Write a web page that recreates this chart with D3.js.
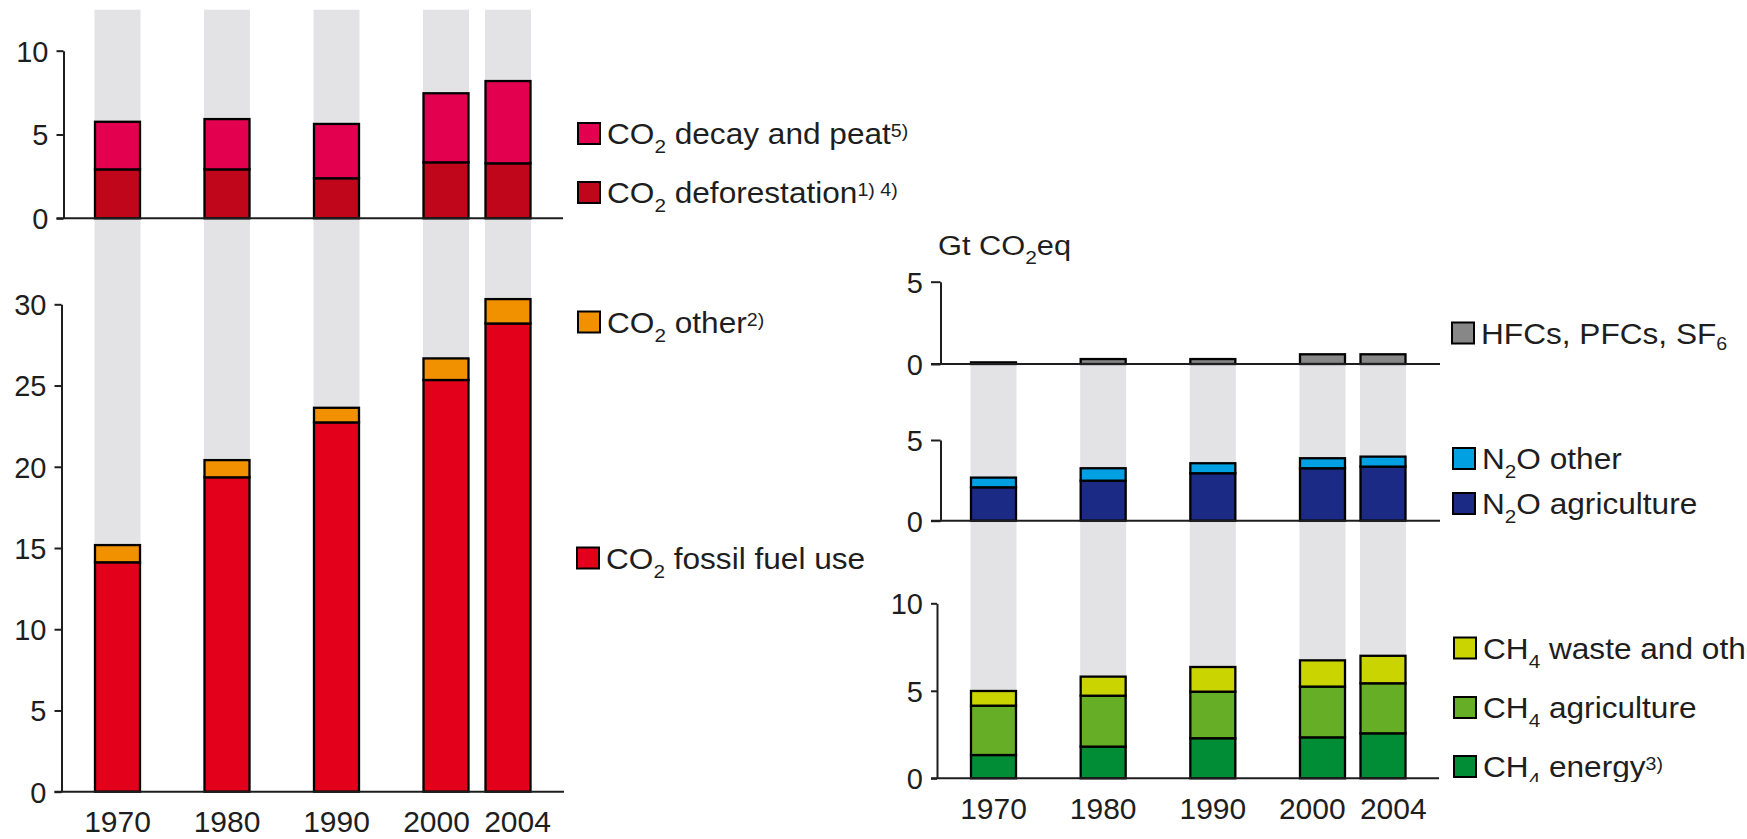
<!DOCTYPE html>
<html><head><meta charset="utf-8">
<script src="https://cdn.jsdelivr.net/npm/d3@7"></script>
<style>
body{margin:0;background:#fff;}
svg{display:block;font-family:"Liberation Sans",Arial,Helvetica,sans-serif;}
</style></head><body>
<svg id="chart" width="1747" height="839"></svg>
<script>
// ---------------- data ----------------
const years = ["1970", "1980", "1990", "2000", "2004"];
// left chart (Gt CO2eq)
const co2Deforestation = [2.92, 2.92, 2.39, 3.34, 3.28];
const co2DecayPeat     = [2.84, 3.00, 3.24, 4.12, 4.91];
const co2FossilFuel    = [14.12, 19.35, 22.73, 25.34, 28.82];
const co2Other         = [1.06, 1.06, 0.90, 1.33, 1.50];
// right chart (Gt CO2eq)
const fGases           = [0.10, 0.30, 0.30, 0.59, 0.59];
const n2oAgriculture   = [2.07, 2.48, 2.94, 3.25, 3.35];
const n2oOther         = [0.60, 0.77, 0.62, 0.62, 0.62];
const ch4Energy        = [1.33, 1.81, 2.29, 2.34, 2.57];
const ch4Agriculture   = [2.82, 2.91, 2.66, 2.90, 2.86];
const ch4Waste         = [0.84, 1.09, 1.41, 1.50, 1.57];
// axis ticks
const ticksCO2Land   = [0, 5, 10];
const ticksCO2Fossil = [0, 5, 10, 15, 20, 25, 30];
const ticksFGas      = [0, 5];
const ticksN2O       = [0, 5];
const ticksCH4       = [0, 5, 10];
const unitLabel = [["Gt CO", ""], ["2", "sub"], ["eq", ""]];
// legend labels
const legendCO2Decay  = [["CO", ""], ["2", "sub"], [" decay and peat", ""], ["5)", "sup"]];
const legendCO2Def    = [["CO", ""], ["2", "sub"], [" deforestation", ""], ["1) 4)", "sup"]];
const legendCO2Other  = [["CO", ""], ["2", "sub"], [" other", ""], ["2)", "sup"]];
const legendCO2Fossil = [["CO", ""], ["2", "sub"], [" fossil fuel use", ""]];
const legendFGas      = [["HFCs, PFCs, SF", ""], ["6", "sub6"]];
const legendN2OOther  = [["N", ""], ["2", "sub"], ["O other", ""]];
const legendN2OAgri   = [["N", ""], ["2", "sub"], ["O agriculture", ""]];
const legendCH4Waste  = [["CH", ""], ["4", "sub"], [" waste and other", ""]];
const legendCH4Agri   = [["CH", ""], ["4", "sub"], [" agriculture", ""]];
const legendCH4Energy = [["CH", ""], ["4", "sub"], [" energy", ""], ["3)", "sup"]];

// ---------------- colours ----------------
const C = {
  decay: "#e3004f", def: "#c0061b", fossil: "#e2001a", other: "#f29100",
  fgas: "#878787", n2oOther: "#00a0e2", n2oAgri: "#1b2a85",
  ch4Waste: "#cad400", ch4Agri: "#66ae25", ch4Energy: "#008d36",
  band: "#e3e3e5", ink: "#1e1e1e"
};

const svg = d3.select("#chart");
const barW = 45, bandW = 46;
const yearNums = years.map(Number);

const xLeft  = d3.scaleLinear().domain([1970, 2000, 2004]).range([117.5, 446, 508]);
const xRight = d3.scaleLinear().domain([1970, 2000, 2004]).range([993.5, 1322.5, 1383]);

const panels = [
  { x: xLeft, y: d3.scaleLinear().domain([0, 10]).range([218.3, 50.7]), ticks: ticksCO2Land,
    axisX: 63.5, tickLen: 7, lineEnd: 563,
    series: [{ v: co2Deforestation, c: C.def }, { v: co2DecayPeat, c: C.decay }] },
  { x: xLeft, y: d3.scaleLinear().domain([0, 30]).range([791.7, 304.3]), ticks: ticksCO2Fossil,
    axisX: 61.5, tickLen: 7, lineEnd: 564,
    series: [{ v: co2FossilFuel, c: C.fossil }, { v: co2Other, c: C.other }] },
  { x: xRight, y: d3.scaleLinear().domain([0, 5]).range([364, 281.7]), ticks: ticksFGas,
    axisX: 940.5, tickLen: 9.5, lineEnd: 1440,
    series: [{ v: fGases, c: C.fgas }] },
  { x: xRight, y: d3.scaleLinear().domain([0, 5]).range([520.7, 440]), ticks: ticksN2O,
    axisX: 940.5, tickLen: 9.5, lineEnd: 1440,
    series: [{ v: n2oAgriculture, c: C.n2oAgri }, { v: n2oOther, c: C.n2oOther }] },
  { x: xRight, y: d3.scaleLinear().domain([0, 10]).range([778.3, 603.3]), ticks: ticksCH4,
    axisX: 937, tickLen: 6, lineEnd: 1439,
    series: [{ v: ch4Energy, c: C.ch4Energy }, { v: ch4Agriculture, c: C.ch4Agri }, { v: ch4Waste, c: C.ch4Waste }] }
];

// ---------------- background columns ----------------
const bands = svg.append("g");
bands.selectAll("rect.l").data(yearNums).join("rect")
  .attr("x", d => xLeft(d) - bandW / 2).attr("width", bandW)
  .attr("y", panels[0].y(10) - 41).attr("height", panels[1].y(0) - (panels[0].y(10) - 41))
  .attr("fill", C.band);
bands.selectAll("rect.r").data(yearNums).join("rect")
  .attr("x", d => xRight(d) - bandW / 2).attr("width", bandW)
  .attr("y", panels[2].y(0)).attr("height", panels[4].y(0) + 1 - panels[2].y(0))
  .attr("fill", C.band);

// ---------------- bars + axes ----------------
panels.forEach(p => {
  const keys = p.series.map((s, i) => "s" + i);
  const rows = yearNums.map((yr, j) => {
    const r = { year: yr };
    p.series.forEach((s, i) => r["s" + i] = s.v[j]);
    return r;
  });
  const stacked = d3.stack().keys(keys)(rows);
  const g = svg.append("g");
  stacked.forEach((layer, i) => {
    g.selectAll(null).data(layer).join("rect")
      .attr("x", d => p.x(d.data.year) - barW / 2)
      .attr("width", barW)
      .attr("y", d => p.y(d[1]))
      .attr("height", d => p.y(d[0]) - p.y(d[1]))
      .attr("fill", p.series[i].c)
      .attr("stroke", "#000").attr("stroke-width", 2.3);
  });
  // baseline
  g.append("line")
    .attr("x1", p.axisX - p.tickLen).attr("x2", p.lineEnd)
    .attr("y1", p.y(0)).attr("y2", p.y(0))
    .attr("stroke", C.ink).attr("stroke-width", 2);
  // y axis
  const ax = svg.append("g").attr("transform", `translate(${p.axisX},0)`)
    .call(d3.axisLeft(p.y).tickValues(p.ticks).tickSize(p.tickLen).tickSizeOuter(0).tickPadding(8).tickFormat(d3.format("d")));
  ax.select(".domain").attr("stroke", C.ink).attr("stroke-width", 2);
  ax.selectAll(".tick line").attr("stroke", C.ink).attr("stroke-width", 2);
  ax.selectAll(".tick text").attr("font-size", 29).attr("fill", C.ink)
    .attr("font-family", '"Liberation Sans", Arial, sans-serif').attr("dy", "0.36em");
});

// ---------------- x labels (spread apart where crowded) ----------------
function labelPositions(scale, minGap) {
  const pos = yearNums.map(d => scale(d));
  for (let i = 1; i < pos.length; i++) {
    const gap = pos[i] - pos[i - 1];
    if (gap < minGap) { const push = (minGap - gap) / 2; pos[i - 1] -= push; pos[i] += push; }
  }
  return pos;
}
[[xLeft, 832], [xRight, 819]].forEach(([sc, base]) => {
  const pos = labelPositions(sc, 81);
  svg.append("g").selectAll("text").data(years).join("text")
    .attr("x", (d, i) => pos[i]).attr("y", base)
    .attr("text-anchor", "middle").attr("font-size", 30).attr("fill", C.ink)
    .text(d => d);
});

// ---------------- rich text helper ----------------
function richText(g, x, y, parts, size, sx) {
  const t = g.append("text").attr("transform", `translate(${x},${y}) scale(${sx},1)`)
    .attr("font-size", size).attr("fill", C.ink);
  let shift = 0;
  parts.forEach(([s, type]) => {
    let target = 0, fs = size;
    if (type === "sub") { target = 9; fs = 19; }
    if (type === "sub6") { target = 6; fs = 18; }
    if (type === "sup") { target = -7; fs = 18; }
    t.append("tspan").attr("dy", target - shift).attr("font-size", fs).text(s);
    shift = target;
  });
  return t;
}

// unit label
richText(svg.append("g"), 938, 255, unitLabel, 28, 1.1);

// ---------------- legends ----------------
function legendItem(g, x, base, color, parts) {
  g.append("rect").attr("x", x).attr("y", base - 21).attr("width", 22).attr("height", 21)
    .attr("fill", color).attr("stroke", "#000").attr("stroke-width", 2);
  richText(g, x + 29, base, parts, 29, 1.09);
}
const legL = svg.append("g");
legendItem(legL, 578, 144, C.decay, legendCO2Decay);
legendItem(legL, 578, 203, C.def, legendCO2Def);
legendItem(legL, 578, 332.5, C.other, legendCO2Other);
legendItem(legL, 577, 568.5, C.fossil, legendCO2Fossil);

svg.append("defs").append("clipPath").attr("id", "legclip")
  .append("rect").attr("x", 1400).attr("y", 0).attr("width", 400).attr("height", 782);
const legR = svg.append("g").attr("clip-path", "url(#legclip)");
legendItem(legR, 1452, 343.5, C.fgas, legendFGas);
legendItem(legR, 1453, 469, C.n2oOther, legendN2OOther);
legendItem(legR, 1453, 514, C.n2oAgri, legendN2OAgri);
legendItem(legR, 1454, 658.5, C.ch4Waste, legendCH4Waste);
legendItem(legR, 1454, 718, C.ch4Agri, legendCH4Agri);
legendItem(legR, 1454, 777, C.ch4Energy, legendCH4Energy);
</script>
</body></html>
